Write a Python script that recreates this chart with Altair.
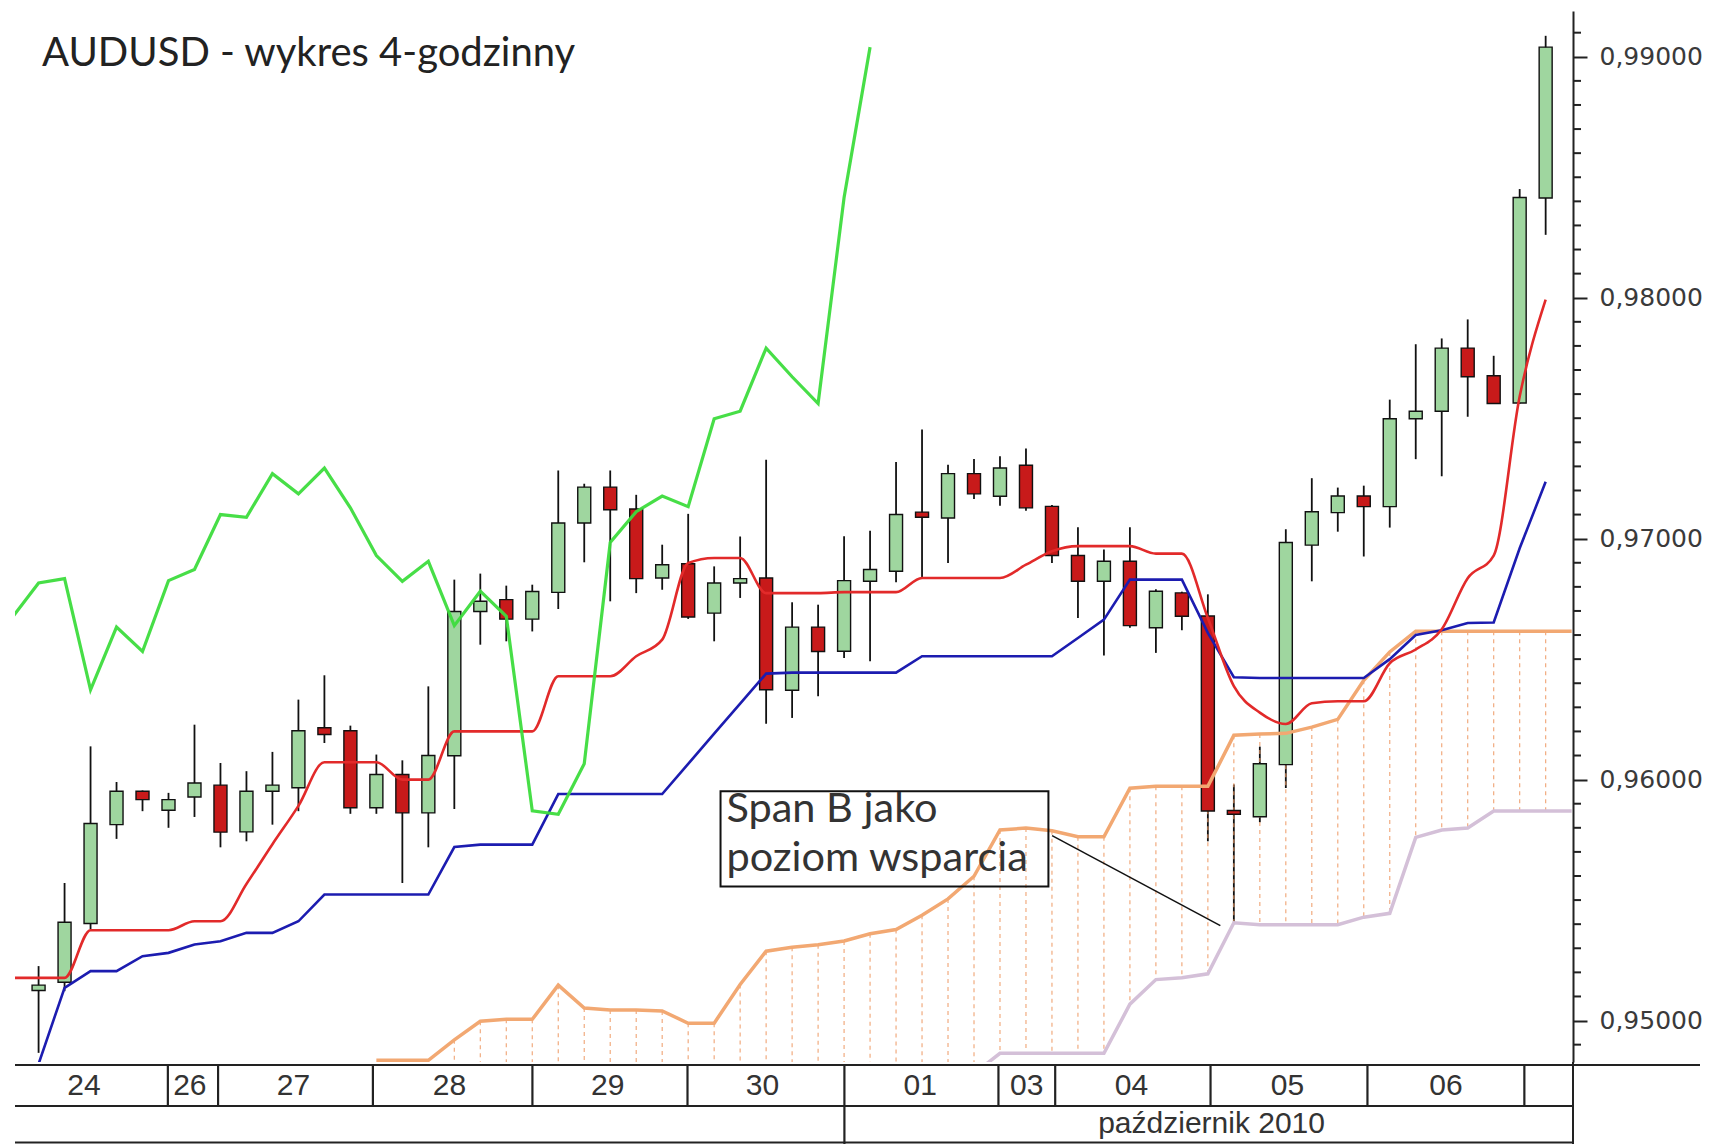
import altair as alt
import pandas as pd

# ---------------- data ----------------
TITLE = "AUDUSD - wykres 4-godzinny"

candle_idx = list(range(59))
opens = [0.95125, 0.95159, 0.95403, 0.95813, 0.95952, 0.95873, 0.95928, 0.95977, 0.95783, 0.95952,
         0.95966, 0.96215, 0.96203, 0.95883, 0.96021, 0.95862, 0.96099, 0.96698, 0.96747, 0.96666,
         0.96777, 0.97065, 0.97214, 0.97123, 0.96837, 0.96896, 0.96691, 0.96816, 0.96837, 0.96371,
         0.96633, 0.96533, 0.96823, 0.96865, 0.97110, 0.97086, 0.97270, 0.97176, 0.97305, 0.97134,
         0.96930, 0.96823, 0.96906, 0.96630, 0.96775, 0.96679, 0.95872, 0.95846, 0.96062, 0.96973,
         0.97108, 0.97177, 0.97133, 0.97498, 0.97529, 0.97791, 0.97676, 0.97563, 0.98414]
closes = [0.95147, 0.95408, 0.95818, 0.95952, 0.95917, 0.95917, 0.95986, 0.95782, 0.95952, 0.95977,
          0.96203, 0.96187, 0.95883, 0.96021, 0.95862, 0.96100, 0.96698, 0.96740, 0.96666, 0.96781,
          0.97065, 0.97214, 0.97120, 0.96834, 0.96892, 0.96675, 0.96816, 0.96834, 0.96373, 0.96633,
          0.96532, 0.96826, 0.96872, 0.97100, 0.97089, 0.97270, 0.97186, 0.97293, 0.97128, 0.96930,
          0.96823, 0.96906, 0.96639, 0.96782, 0.96678, 0.95870, 0.95856, 0.96066, 0.96984, 0.97112,
          0.97177, 0.97133, 0.97498, 0.97529, 0.97791, 0.97672, 0.97561, 0.98416, 0.99040]
highs = [0.95226, 0.95571, 0.96138, 0.95990, 0.95955, 0.95945, 0.96228, 0.96069, 0.96035, 0.96115,
         0.96332, 0.96433, 0.96224, 0.96104, 0.96080, 0.96387, 0.96830, 0.96855, 0.96805, 0.96809,
         0.97283, 0.97228, 0.97283, 0.97182, 0.96975, 0.97103, 0.96885, 0.97009, 0.97328, 0.96736,
         0.96726, 0.97010, 0.97033, 0.97318, 0.97453, 0.97307, 0.97331, 0.97342, 0.97374, 0.97140,
         0.97047, 0.96955, 0.97047, 0.96790, 0.96780, 0.96769, 0.95980, 0.96137, 0.97039, 0.97251,
         0.97212, 0.97220, 0.97577, 0.97807, 0.97831, 0.97910, 0.97759, 0.98451, 0.99087]
lows = [0.94866, 0.95122, 0.95378, 0.95754, 0.95869, 0.95800, 0.95845, 0.95719, 0.95744, 0.95813,
        0.95869, 0.96152, 0.95858, 0.95858, 0.95571, 0.95719, 0.95878, 0.96560, 0.96574, 0.96615,
        0.96708, 0.96902, 0.96740, 0.96774, 0.96788, 0.96667, 0.96574, 0.96754, 0.96232, 0.96256,
        0.96346, 0.96505, 0.96491, 0.96819, 0.96837, 0.96899, 0.97165, 0.97137, 0.97116, 0.96899,
        0.96671, 0.96515, 0.96630, 0.96526, 0.96620, 0.95744, 0.95407, 0.95823, 0.95965, 0.96823,
        0.97029, 0.96926, 0.97046, 0.97330, 0.97259, 0.97506, 0.97561, 0.97560, 0.98261]

# Tenkan-sen (red)
tenkan_idx = list(range(-1, 59))
tenkan = [0.95177, 0.95177, 0.95177, 0.95375, 0.95375, 0.95375, 0.95375, 0.95412, 0.95412, 0.95567,
          0.95732, 0.95891, 0.96072, 0.96072, 0.96072, 0.96000, 0.96000, 0.96200, 0.96200, 0.96200,
          0.96200, 0.96429, 0.96429, 0.96429, 0.96512, 0.96581, 0.96899, 0.96920, 0.96920, 0.96774,
          0.96774, 0.96774, 0.96778, 0.96778, 0.96778, 0.96837, 0.96837, 0.96837, 0.96837, 0.96892,
          0.96948, 0.96969, 0.96969, 0.96969, 0.96938, 0.96938, 0.96671, 0.96388, 0.96278, 0.96231,
          0.96317, 0.96325, 0.96325, 0.96483, 0.96540, 0.96624, 0.96836, 0.96930, 0.97590, 0.97992]

# Kijun-sen (blue)
kijun_idx = list(range(0, 59))
kijun = [0.94820, 0.95136, 0.95205, 0.95205, 0.95267, 0.95281, 0.95316, 0.95329, 0.95364, 0.95364,
         0.95412, 0.95523, 0.95523, 0.95523, 0.95523, 0.95523, 0.95720, 0.95730, 0.95730, 0.95730,
         0.95940, 0.95940, 0.95940, 0.95940, 0.95940, 0.96065, 0.96191, 0.96315, 0.96440, 0.96444,
         0.96444, 0.96444, 0.96444, 0.96444, 0.96512, 0.96512, 0.96512, 0.96512, 0.96512, 0.96512,
         0.96588, 0.96664, 0.96830, 0.96830, 0.96830, 0.96609, 0.96425, 0.96422, 0.96422, 0.96422,
         0.96422, 0.96422, 0.96500, 0.96600, 0.96620, 0.96650, 0.96652, 0.96960, 0.97236]

# Chikou span (green)
chikou_idx = list(range(-1, 33))
chikou = [0.96675, 0.96816, 0.96834, 0.96373, 0.96633, 0.96532, 0.96826, 0.96872, 0.97100, 0.97089,
          0.97270, 0.97186, 0.97293, 0.97128, 0.96930, 0.96823, 0.96906, 0.96639, 0.96782, 0.96678,
          0.95870, 0.95856, 0.96066, 0.96984, 0.97112, 0.97177, 0.97133, 0.97498, 0.97529, 0.97791,
          0.97672, 0.97561, 0.98416, 0.99040]

# Senkou span A (orange)
span_a_idx = list(range(13, 60))
span_a = [0.94835, 0.94835, 0.94835, 0.94920, 0.94997, 0.95005, 0.95005, 0.95147, 0.95052, 0.95044,
          0.95044, 0.95040, 0.94989, 0.94989, 0.95150, 0.95288, 0.95304, 0.95315, 0.95330, 0.95360,
          0.95378, 0.95437, 0.95505, 0.95599, 0.95791, 0.95799, 0.95788, 0.95763, 0.95763, 0.95964,
          0.95972, 0.95972, 0.95972, 0.96184, 0.96189, 0.96192, 0.96218, 0.96250, 0.96412, 0.96530,
          0.96616, 0.96616, 0.96616, 0.96616, 0.96616, 0.96616, 0.96616]

# Senkou span B (lilac)
span_b_idx = list(range(36, 60))
span_b = [0.94780, 0.94864, 0.94864, 0.94864, 0.94864, 0.94864, 0.95068, 0.95170, 0.95178, 0.95194,
          0.95406, 0.95398, 0.95398, 0.95398, 0.95398, 0.95429, 0.95445, 0.95760, 0.95791, 0.95799,
          0.95870, 0.95870, 0.95870, 0.95870]

# hatch lines of the cloud (one per bar)
hatch_idx = list(range(16, 59))

# y axis ticks
major_ticks = [0.95, 0.96, 0.97, 0.98, 0.99]
minor_ticks = [0.949, 0.951, 0.952, 0.953, 0.954, 0.955, 0.956, 0.957, 0.958, 0.959,
               0.961, 0.962, 0.963, 0.964, 0.965, 0.966, 0.967, 0.968, 0.969,
               0.971, 0.972, 0.973, 0.974, 0.975, 0.976, 0.977, 0.978, 0.979,
               0.981, 0.982, 0.983, 0.984, 0.985, 0.986, 0.987, 0.988, 0.989, 0.991]

# date table
day_labels = ["24", "26", "27", "28", "29", "30", "01", "03", "04", "05", "06"]
day_label_pos = [1.92, 5.97, 9.93, 15.9, 21.95, 27.87, 33.9, 37.97, 41.98, 47.94, 54.0]
day_breaks = [5.13, 7.05, 12.97, 19.07, 25.0, 31.0, 36.89, 39.06, 45.0, 51.0, 57.0]
month_breaks = [31.0]
month_label = ["październik 2010"]
month_label_pos = [45.04]

# annotation
note_lines = ["Span B jako", "poziom wsparcia"]
note_line_y = [0.95823, 0.95620]
note_text_x = 26.47
note_box = dict(x1=26.245, x2=38.864, y1=0.959515, y2=0.95556)
note_arrow = dict(x1=39.005, y1=0.957676, x2=45.48, y2=0.953942)

# ---------------- styles ----------------
W, H = 1558, 1051
Y_MIN, Y_MAX = 0.94828, 0.99190
X_MIN, X_MAX = -0.715, 58.86
GREEN_BODY = "#9fd69f"
RED_BODY = "#c81a1a"
NO_BORDER = alt.ViewBackground(stroke=None, strokeWidth=0)

xs = alt.Scale(domain=[X_MIN, X_MAX], nice=False, zero=False)
ys = alt.Scale(domain=[Y_MIN, Y_MAX], nice=False, zero=False)
yaxis = alt.Axis(orient="right", values=major_ticks, title=None, grid=False,
                 tickSize=14, tickWidth=2, tickColor="#222", domainColor="#222",
                 domainWidth=2, labelFont="DejaVu Sans", labelFontSize=25,
                 labelColor="#3a3a3a", labelPadding=12,
                 labelExpr="replace(format(datum.value, '.5f'), '.', ',')")


def X(field="i"):
    return alt.X(f"{field}:Q", scale=xs, axis=None)


def Y(field):
    return alt.Y(f"{field}:Q", scale=ys, axis=yaxis)


candles = pd.DataFrame({"i": candle_idx, "open": opens, "close": closes,
                        "high": highs, "low": lows})
candles["dir"] = ["up" if c >= o else "down" for o, c in zip(opens, closes)]

b_map = dict(zip(span_b_idx, span_b))
a_map = dict(zip(span_a_idx, span_a))
hatch = pd.DataFrame({"i": hatch_idx,
                      "a": [a_map[k] for k in hatch_idx],
                      "b": [b_map.get(k, Y_MIN) for k in hatch_idx]})

wicks = alt.Chart(candles).mark_rule(color="#111", strokeWidth=1.8, clip=True).encode(
    x=X(), y=Y("low"), y2="high:Q")
hatch_l = alt.Chart(hatch).mark_rule(color="#ee9c68", strokeWidth=1.2, strokeDash=[4, 4],
                                     opacity=0.85, clip=True).encode(
    x=X(), y=Y("a"), y2="b:Q")
bodies = alt.Chart(candles).mark_bar(size=13, stroke="#111", strokeWidth=1.4).encode(
    x=X(), y=Y("open"), y2="close:Q",
    color=alt.Color("dir:N", scale=alt.Scale(domain=["up", "down"],
                                             range=[GREEN_BODY, RED_BODY]), legend=None))


def line(idx, vals, color, width, interp="linear", opacity=1.0):
    df = pd.DataFrame({"i": idx, "v": vals})
    return alt.Chart(df).mark_line(color=color, strokeWidth=width, clip=True,
                                   interpolate=interp, opacity=opacity).encode(
        x=X(), y=Y("v"))


span_b_l = line(span_b_idx, span_b, "#d4c0d8", 3.5)
span_a_l = line(span_a_idx, span_a, "#f2a872", 3.5)
kijun_l = line(kijun_idx, kijun, "#1c1cb0", 2.6)
tenkan_l = line(tenkan_idx, tenkan, "#e22a2a", 2.6, "monotone")
chikou_l = line(chikou_idx, chikou, "#3ddc3d", 3.2, "linear", 0.95)

box_df = pd.DataFrame([note_box])
box = alt.Chart(box_df).mark_rect(fillOpacity=0, stroke="#111", strokeWidth=2).encode(
    x=X("x1"), x2="x2:Q", y=Y("y1"), y2="y2:Q")
note_df = pd.DataFrame({"i": [note_text_x] * len(note_lines), "v": note_line_y, "t": note_lines})
note_txt = alt.Chart(note_df).mark_text(align="left", baseline="alphabetic", font="Lato",
                                        fontSize=41.5, color="#333").encode(
    x=X(), y=Y("v"), text="t:N")
arrow_df = pd.DataFrame([note_arrow])
arrow = alt.Chart(arrow_df).mark_rule(color="#111", strokeWidth=1.5).encode(
    x=X("x1"), x2="x2:Q", y=Y("y1"), y2="y2:Q")

title_df = pd.DataFrame({"t": [TITLE]})
title = alt.Chart(title_df).mark_text(align="left", baseline="alphabetic", font="Lato",
                                      fontSize=40, color="#222").encode(
    x=alt.value(27), y=alt.value(55), text="t:N")

minor_df = pd.DataFrame({"v": minor_ticks})
minor = alt.Chart(minor_df).mark_rule(color="#222", strokeWidth=2).encode(
    y=Y("v"), x=alt.value(W), x2=alt.value(W + 8))

top = alt.layer(wicks, hatch_l, bodies, span_b_l, span_a_l, kijun_l, tenkan_l, chikou_l,
                box, note_txt, arrow, title, minor).properties(width=W, height=H, view=NO_BORDER)

# ---------------- date table ----------------
BH = 82
one = pd.DataFrame({"k": [0]})


def hline(y, x2):
    return alt.Chart(one).mark_rule(color="#222", strokeWidth=2.2).encode(
        x=alt.value(0), x2=alt.value(x2), y=alt.value(y))


sep = alt.Chart(pd.DataFrame({"pos": day_breaks})).mark_rule(color="#222", strokeWidth=2.2).encode(
    x=X("pos"), y=alt.value(3), y2=alt.value(44))
msep = alt.Chart(pd.DataFrame({"pos": month_breaks})).mark_rule(color="#222", strokeWidth=2.2).encode(
    x=X("pos"), y=alt.value(44), y2=alt.value(BH))
right_edge = alt.Chart(one).mark_rule(color="#222", strokeWidth=2).encode(
    x=alt.value(W), y=alt.value(0), y2=alt.value(BH))
days = alt.Chart(pd.DataFrame({"pos": day_label_pos, "label": day_labels})).mark_text(
    font="Liberation Sans", fontSize=30, color="#333", baseline="middle").encode(
    x=X("pos"), y=alt.value(24), text="label:N")
month = alt.Chart(pd.DataFrame({"pos": month_label_pos, "label": month_label})).mark_text(
    font="Liberation Sans", fontSize=30, color="#333", baseline="middle").encode(
    x=X("pos"), y=alt.value(62), text="label:N")

bottom = alt.layer(hline(3, 1685), hline(44, W), hline(80.5, W), sep, msep, right_edge,
                   days, month).properties(width=W, height=BH, view=NO_BORDER)

chart = alt.vconcat(top, bottom, spacing=0, bounds="flush").properties(
    padding={"left": 5, "top": 3, "right": 0, "bottom": 0}
).configure_view(stroke=None, strokeWidth=0).configure(background="white")

chart.save("out.html", embed_options={"renderer": "svg", "actions": False})
